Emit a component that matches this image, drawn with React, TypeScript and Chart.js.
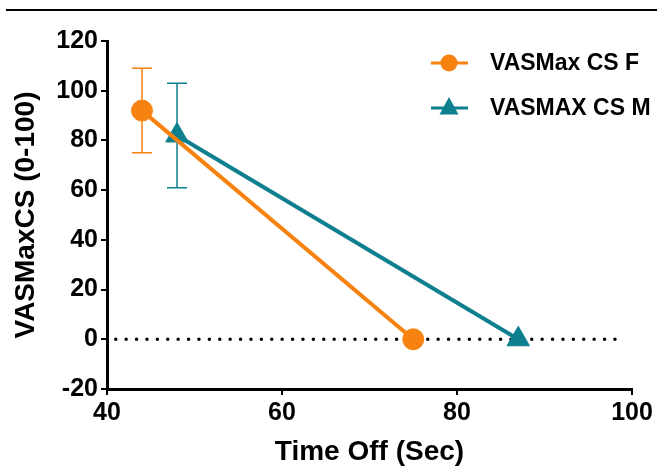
import React, { useEffect, useRef } from 'react';
import { Chart, registerables } from 'chart.js';

Chart.register(...registerables);

// ---- data ----
const seriesNames = ['VASMax CS F', 'VASMAX CS M'];
const fTime = [44, 75];
const fValue = [92, 0];
const fError = [17, 0];
const mTime = [48, 87];
const mValue = [82, 0];
const mError = [21, 0];
const refLineX = [41, 99];
const refLineY = [0, 0];
const xTicks = [40, 60, 80, 100];
const yTicks = [-20, 0, 20, 40, 60, 80, 100, 120];
const xTitle = 'Time Off (Sec)';
const yTitle = 'VASMaxCS (0-100)';

const ORANGE = '#F8820F';
const TEAL = '#0E7F8E';
const FONT = "'Liberation Sans', Arial, Helvetica, sans-serif";

const toPoints = (xs: number[], ys: number[]) => xs.map((x, i) => ({ x, y: ys[i] }));

const errorBarPlugin = {
  id: 'errorBars',
  beforeDatasetsDraw(chart: any) {
    const { ctx, scales } = chart;
    const xs = scales.x;
    const ys = scales.y;
    chart.data.datasets.forEach((ds: any) => {
      const errs = ds.errors;
      if (!errs) return;
      ctx.save();
      ctx.strokeStyle = ds.borderColor;
      ctx.lineWidth = 1.5;
      ds.data.forEach((p: any, j: number) => {
        const e = errs[j];
        if (!e) return;
        const px = xs.getPixelForValue(p.x);
        const top = ys.getPixelForValue(p.y + e);
        const bot = ys.getPixelForValue(p.y - e);
        ctx.beginPath();
        ctx.moveTo(px, top);
        ctx.lineTo(px, bot);
        ctx.moveTo(px - 10, top);
        ctx.lineTo(px + 10, top);
        ctx.moveTo(px - 10, bot);
        ctx.lineTo(px + 10, bot);
        ctx.stroke();
      });
      ctx.restore();
    });
  },
};

const decorPlugin = {
  id: 'decor',
  afterDraw(chart: any) {
    const ctx = chart.ctx;
    ctx.save();
    // top rule
    ctx.fillStyle = '#000';
    ctx.fillRect(6, 9, 651, 2);
    // legend
    const rows = [
      { name: seriesNames[0], color: ORANGE, style: 'circle', y: 63 },
      { name: seriesNames[1], color: TEAL, style: 'triangle', y: 108 },
    ];
    rows.forEach((r) => {
      ctx.strokeStyle = r.color;
      ctx.fillStyle = r.color;
      ctx.lineWidth = 3;
      ctx.beginPath();
      ctx.moveTo(431, r.y);
      ctx.lineTo(468, r.y);
      ctx.stroke();
      const cx = 449;
      ctx.beginPath();
      if (r.style === 'circle') {
        ctx.arc(cx, r.y, 8.5, 0, Math.PI * 2);
      } else {
        const rad = 11;
        ctx.moveTo(cx, r.y - rad);
        ctx.lineTo(cx + rad * 0.866, r.y + rad * 0.5 + 1);
        ctx.lineTo(cx - rad * 0.866, r.y + rad * 0.5 + 1);
        ctx.closePath();
      }
      ctx.fill();
      ctx.fillStyle = '#000';
      ctx.font = `bold 23px ${FONT}`;
      ctx.textAlign = 'left';
      ctx.textBaseline = 'middle';
      ctx.fillText(r.name, 490, r.y + 1);
    });
    ctx.restore();
  },
};

export default function App() {
  const canvasRef = useRef<HTMLCanvasElement | null>(null);

  useEffect(() => {
    if (!canvasRef.current) return;
    const chart = new Chart(canvasRef.current, {
      type: 'line',
      data: {
        datasets: [
          {
            label: seriesNames[0],
            data: toPoints(fTime, fValue),
            errors: fError,
            borderColor: ORANGE,
            backgroundColor: ORANGE,
            borderWidth: 4,
            pointStyle: 'circle',
            pointRadius: 10.5,
            pointBorderWidth: 1,
            pointBackgroundColor: ORANGE,
            pointBorderColor: ORANGE,
            order: 0,
            clip: false,
          } as any,
          {
            label: seriesNames[1],
            data: toPoints(mTime, mValue),
            errors: mError,
            borderColor: TEAL,
            backgroundColor: TEAL,
            borderWidth: 4,
            pointStyle: 'triangle',
            pointRadius: 13,
            pointBorderWidth: 1,
            pointBackgroundColor: TEAL,
            pointBorderColor: TEAL,
            order: 1,
            clip: false,
          } as any,
          {
            label: 'zero',
            data: toPoints(refLineX, refLineY),
            borderColor: '#000',
            borderWidth: 3.5,
            borderDash: [0, 10.4],
            borderCapStyle: 'round',
            pointRadius: 0,
            order: 2,
            clip: false,
          } as any,
        ],
      },
      options: {
        responsive: false,
        animation: false,
        events: [],
        layout: { padding: { top: 41, right: 25, left: 0, bottom: 0 } },
        plugins: {
          legend: { display: false },
          tooltip: { enabled: false },
          title: { display: false },
        },
        scales: {
          x: {
            type: 'linear',
            min: 40,
            max: 100,
            afterBuildTicks: (s: any) => {
              s.ticks = xTicks.map((v) => ({ value: v }));
            },
            afterFit: (s: any) => {
              s.height = 80;
              s.paddingLeft = 0;
              s.paddingRight = 0;
            },
            ticks: {
              color: '#000',
              padding: 3,
              maxRotation: 0,
              autoSkip: false,
              font: { family: FONT, size: 25, weight: 'bold' },
            },
            grid: {
              display: true,
              drawOnChartArea: false,
              drawTicks: true,
              tickLength: 6,
              color: '#000',
              lineWidth: 2,
            },
            border: { display: true, color: '#000', width: 3 },
            title: {
              display: true,
              text: xTitle,
              color: '#000',
              padding: { top: 0, bottom: 0 },
              font: { family: FONT, size: 28, weight: 'bold' },
            },
          },
          y: {
            type: 'linear',
            min: -20,
            max: 120,
            afterBuildTicks: (s: any) => {
              s.ticks = yTicks.map((v) => ({ value: v }));
            },
            afterFit: (s: any) => {
              s.width = 107;
              s.paddingTop = 0;
              s.paddingBottom = 0;
            },
            ticks: {
              color: '#000',
              padding: 3,
              autoSkip: false,
              font: { family: FONT, size: 25, weight: 'bold' },
            },
            grid: {
              display: true,
              drawOnChartArea: false,
              drawTicks: true,
              tickLength: 6,
              color: '#000',
              lineWidth: 2,
            },
            border: { display: true, color: '#000', width: 3 },
            title: {
              display: true,
              text: yTitle,
              color: '#000',
              padding: { top: 9, bottom: 0 },
              font: { family: FONT, size: 28, weight: 'bold' },
            },
          },
        },
      } as any,
      plugins: [errorBarPlugin, decorPlugin],
    });
    return () => chart.destroy();
  }, []);

  return (
    <div style={{ position: 'absolute', left: 0, top: 0, width: 657, height: 469, background: '#fff' }}>
      <canvas ref={canvasRef} width={657} height={469} style={{ display: 'block' }} />
    </div>
  );
}
